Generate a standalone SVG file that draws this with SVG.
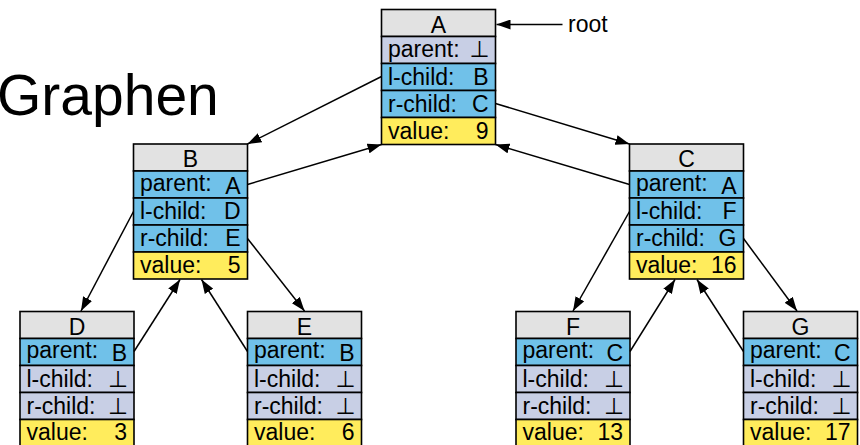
<svg xmlns="http://www.w3.org/2000/svg" width="860" height="445" viewBox="0 0 860 445">
<defs>
<style>
text{font-family:"Liberation Sans",Arial,"DejaVu Sans",sans-serif;font-size:23px;fill:#000}
.hd{fill:#e2e2e2;stroke:#000;stroke-width:1.6}
.nl{fill:#c8cfe5;stroke:#000;stroke-width:1.6}
.bl{fill:#70c1e9;stroke:#000;stroke-width:1.6}
.yl{fill:#ffec5c;stroke:#000;stroke-width:1.6}
.c{text-anchor:middle}
.r{text-anchor:end}
.ln{fill:none;stroke:#000;stroke-width:1.5;marker-end:url(#ah)}
</style>
<marker id="ah" viewBox="0 0 14 10" refX="14" refY="5" markerWidth="14" markerHeight="10" markerUnits="userSpaceOnUse" orient="auto">
<path d="M0,0 L14,5 L0,10 z" fill="#000"/>
</marker>
</defs>
<rect width="860" height="445" fill="#fff"/>
<text x="-3" y="115" style="font-size:57px">Graphen</text>

<g id="A" transform="translate(381.5,9.5)">
<rect class="hd" x="0" y="0" width="114" height="27"/>
<rect class="nl" x="0" y="27" width="114" height="27"/>
<rect class="bl" x="0" y="54" width="114" height="27"/>
<rect class="bl" x="0" y="81" width="114" height="27"/>
<rect class="yl" x="0" y="108" width="114" height="27"/>
<text class="c" x="57" y="23">A</text>
<text x="6.5" y="47">parent:</text><text class="r" x="108" y="47.5">⊥</text>
<text x="6.5" y="75">l-child:</text><text class="r" x="107" y="75">B</text>
<text x="6.5" y="102">r-child:</text><text class="r" x="107" y="102">C</text>
<text x="6.5" y="129">value:</text><text class="r" x="107" y="129">9</text>
</g>

<g id="B" transform="translate(133.5,144)">
<rect class="hd" x="0" y="0" width="114" height="27"/>
<rect class="bl" x="0" y="27" width="114" height="27"/>
<rect class="bl" x="0" y="54" width="114" height="27"/>
<rect class="bl" x="0" y="81" width="114" height="27"/>
<rect class="yl" x="0" y="108" width="114" height="27"/>
<text class="c" x="57" y="23">B</text>
<text x="6.5" y="46.5">parent:</text><text class="r" x="107" y="49.5">A</text>
<text x="6.5" y="75">l-child:</text><text class="r" x="107" y="75">D</text>
<text x="6.5" y="102">r-child:</text><text class="r" x="107" y="102">E</text>
<text x="6.5" y="128.5">value:</text><text class="r" x="107" y="128.5">5</text>
</g>

<g id="C" transform="translate(629.5,144)">
<rect class="hd" x="0" y="0" width="114" height="27"/>
<rect class="bl" x="0" y="27" width="114" height="27"/>
<rect class="bl" x="0" y="54" width="114" height="27"/>
<rect class="bl" x="0" y="81" width="114" height="27"/>
<rect class="yl" x="0" y="108" width="114" height="27"/>
<text class="c" x="57" y="23">C</text>
<text x="6.5" y="46.5">parent:</text><text class="r" x="107" y="49.5">A</text>
<text x="6.5" y="75">l-child:</text><text class="r" x="107" y="75">F</text>
<text x="6.5" y="102">r-child:</text><text class="r" x="107" y="102">G</text>
<text x="6.5" y="128.5">value:</text><text class="r" x="107" y="128.5">16</text>
</g>

<g id="D" transform="translate(20,311.5)">
<rect class="hd" x="0" y="0" width="114" height="27"/>
<rect class="bl" x="0" y="27" width="114" height="27"/>
<rect class="nl" x="0" y="54" width="114" height="27"/>
<rect class="nl" x="0" y="81" width="114" height="27"/>
<rect class="yl" x="0" y="108" width="114" height="27"/>
<text class="c" x="57" y="23">D</text>
<text x="6.5" y="46">parent:</text><text class="r" x="107" y="49">B</text>
<text x="6.5" y="75">l-child:</text><text class="r" x="108" y="75">⊥</text>
<text x="6.5" y="102">r-child:</text><text class="r" x="108" y="102">⊥</text>
<text x="6.5" y="128.5">value:</text><text class="r" x="107" y="128.5">3</text>
</g>

<g id="E" transform="translate(247.5,311.5)">
<rect class="hd" x="0" y="0" width="114" height="27"/>
<rect class="bl" x="0" y="27" width="114" height="27"/>
<rect class="nl" x="0" y="54" width="114" height="27"/>
<rect class="nl" x="0" y="81" width="114" height="27"/>
<rect class="yl" x="0" y="108" width="114" height="27"/>
<text class="c" x="57" y="23">E</text>
<text x="6.5" y="46">parent:</text><text class="r" x="107" y="49">B</text>
<text x="6.5" y="75">l-child:</text><text class="r" x="108" y="75">⊥</text>
<text x="6.5" y="102">r-child:</text><text class="r" x="108" y="102">⊥</text>
<text x="6.5" y="128.5">value:</text><text class="r" x="107" y="128.5">6</text>
</g>

<g id="F" transform="translate(516,311.5)">
<rect class="hd" x="0" y="0" width="114" height="27"/>
<rect class="bl" x="0" y="27" width="114" height="27"/>
<rect class="nl" x="0" y="54" width="114" height="27"/>
<rect class="nl" x="0" y="81" width="114" height="27"/>
<rect class="yl" x="0" y="108" width="114" height="27"/>
<text class="c" x="57" y="23">F</text>
<text x="6.5" y="46">parent:</text><text class="r" x="107" y="49">C</text>
<text x="6.5" y="75">l-child:</text><text class="r" x="108" y="75">⊥</text>
<text x="6.5" y="102">r-child:</text><text class="r" x="108" y="102">⊥</text>
<text x="6.5" y="128.5">value:</text><text class="r" x="107" y="128.5">13</text>
</g>

<g id="G" transform="translate(743.5,311.5)">
<rect class="hd" x="0" y="0" width="114" height="27"/>
<rect class="bl" x="0" y="27" width="114" height="27"/>
<rect class="nl" x="0" y="54" width="114" height="27"/>
<rect class="nl" x="0" y="81" width="114" height="27"/>
<rect class="yl" x="0" y="108" width="114" height="27"/>
<text class="c" x="57" y="23">G</text>
<text x="6.5" y="46">parent:</text><text class="r" x="107" y="49">C</text>
<text x="6.5" y="75">l-child:</text><text class="r" x="108" y="75">⊥</text>
<text x="6.5" y="102">r-child:</text><text class="r" x="108" y="102">⊥</text>
<text x="6.5" y="128.5">value:</text><text class="r" x="107" y="128.5">17</text>
</g>

<g id="root">
<text x="568" y="31.5">root</text>
</g>

<g id="connectors">
<path class="ln" d="M562.5,24.5 L496.5,24.5"/>
<path class="ln" d="M381.5,76.5 L247.5,144"/>
<path class="ln" d="M247.5,184.5 L381.5,144.5"/>
<path class="ln" d="M495.5,103.5 L629.5,144"/>
<path class="ln" d="M629.5,184.5 L495.5,144.5"/>
<path class="ln" d="M133.5,211.5 L81,311"/>
<path class="ln" d="M134,351.5 L180,279.5"/>
<path class="ln" d="M247.5,351.5 L201.5,279.5"/>
<path class="ln" d="M247.5,238.5 L304.5,311"/>
<path class="ln" d="M629.5,211.5 L573,311"/>
<path class="ln" d="M630,351.5 L675,279.5"/>
<path class="ln" d="M743.5,351.5 L697,279.5"/>
<path class="ln" d="M743.5,238.5 L797,311"/>
</g>
</svg>
